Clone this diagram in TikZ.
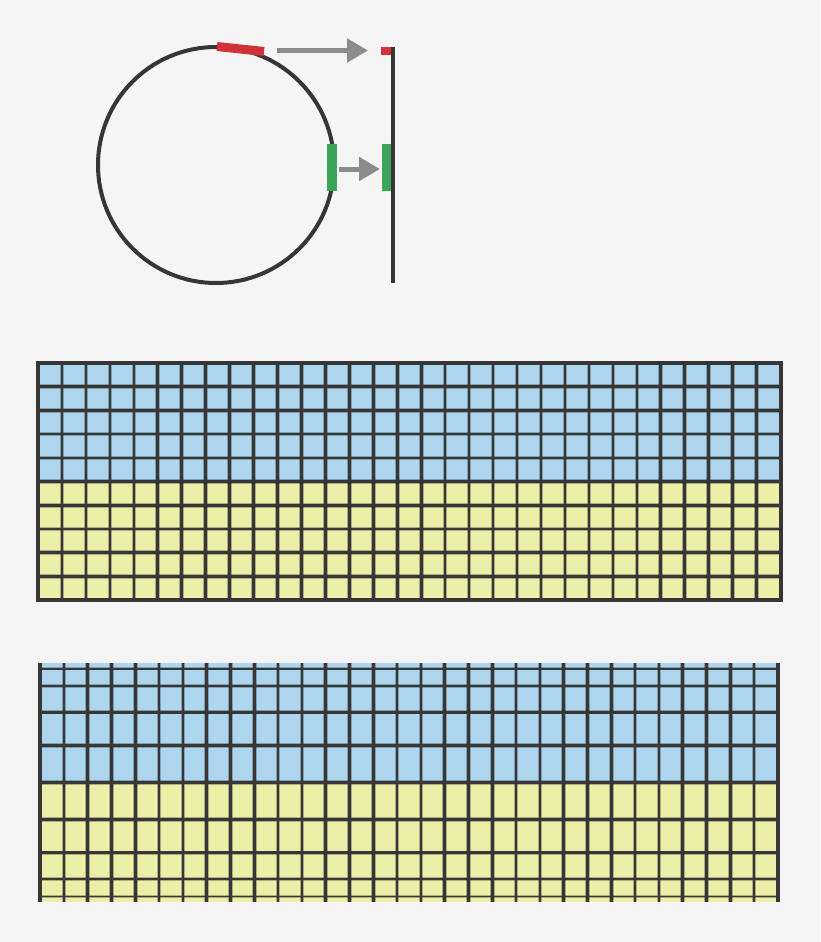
\documentclass[tikz,border=0pt]{standalone}
\usepackage{tikz}
\usetikzlibrary{arrows.meta}

\definecolor{paper}{HTML}{F5F5F5}
\definecolor{ink}{HTML}{363636}
\definecolor{sky}{HTML}{ADD6EE}
\definecolor{sand}{HTML}{EDEEA8}
\definecolor{redbar}{HTML}{D03238}
\definecolor{greenbar}{HTML}{3DA55A}
\definecolor{pointer}{HTML}{8C8C8C}

\begin{document}
\begin{tikzpicture}[x=1pt,y=-1pt]
	\tikzstyle{Outline}	= [draw=ink, line width=4pt]
	\tikzstyle{Halo}	= [draw=ink, opacity=0.35, line width=4.6pt]
	\tikzstyle{Rule}	= [draw=ink, line width=2.6pt]
	\tikzstyle{Pointer}	= [draw=pointer, line width=5pt, -{Triangle[length=21pt,width=23pt]}]
	\tikzstyle{RedSeg}	= [draw=redbar, line width=9pt]
	\tikzstyle{GreenSeg}	= [draw=greenbar, line width=10pt]

	\useasboundingbox [fill=paper] (0,0) rectangle (820,942);

	\coordinate (globe) at (216,165);
	\coordinate (axtop) at (392.5,47);
	\coordinate (axbot) at (392.5,283);

	\draw [Outline] (globe) circle (118);

	\coordinate (rl) at (217,46.5);
	\coordinate (rr) at (264,51.5);
	\coordinate (pl) at (381,51);
	\coordinate (pr) at (392,51);
	\draw [RedSeg] (rl) -- (rr);
	\draw [RedSeg, line width=8pt] (pl) -- (pr);

	\draw [Outline] (axtop) -- (axbot);

	\coordinate (gt) at (332,144);
	\coordinate (gb) at (332,191);
	\coordinate (ht) at (386.5,144);
	\coordinate (hb) at (386.5,191);
	\draw [GreenSeg] (gt) -- (gb);
	\draw [GreenSeg, line width=9pt] (ht) -- (hb);

	\coordinate (a1s) at (277,50.5);
	\coordinate (a1e) at (368,50.5);
	\coordinate (a2s) at (339,169);
	\coordinate (a2e) at (380,169);
	\draw [Pointer] (a1s) -- (a1e);
	\draw [Pointer] (a2s) -- (a2e);

	\fill [sky] (38,363) rectangle (780.5,481.5);
	\fill [sand] (38,481.5) rectangle (780.5,600);
	\foreach \i in {1,...,30} {
		\draw [Halo] ({38+\i*23.952},363) -- ({38+\i*23.952},600);
		\draw [Rule] ({38+\i*23.952},363) -- ({38+\i*23.952},600);
	}
	\foreach \j in {1,...,9} {
		\draw [Halo] (38,{363+\j*23.7}) -- (780.5,{363+\j*23.7});
		\draw [Rule] (38,{363+\j*23.7}) -- (780.5,{363+\j*23.7});
	}
	\draw [Outline] (38,363) rectangle (780.5,600);

	\fill [sky] (40,663) rectangle (778,782.5);
	\fill [sand] (40,782.5) rectangle (778,902);
	\foreach \i in {1,...,30} {
		\draw [Halo] ({40+\i*23.806},663) -- ({40+\i*23.806},902);
		\draw [Rule] ({40+\i*23.806},663) -- ({40+\i*23.806},902);
	}
	\foreach \k/\w in {-4/1.3,-3/2.4,-2/2.6,-1/2.7,0/2.7,1/2.7,2/2.6,3/2.4,4/1.3} {
		\draw [Halo, line width=\w pt+1.8pt] (40,{782.5-119.5*sin(\k*18)}) -- (778,{782.5-119.5*sin(\k*18)});
		\draw [Rule, line width=\w pt] (40,{782.5-119.5*sin(\k*18)}) -- (778,{782.5-119.5*sin(\k*18)});
	}
	\draw [Outline] (40,663) -- (40,902);
	\draw [Outline] (778,663) -- (778,902);
\end{tikzpicture}
\end{document}
